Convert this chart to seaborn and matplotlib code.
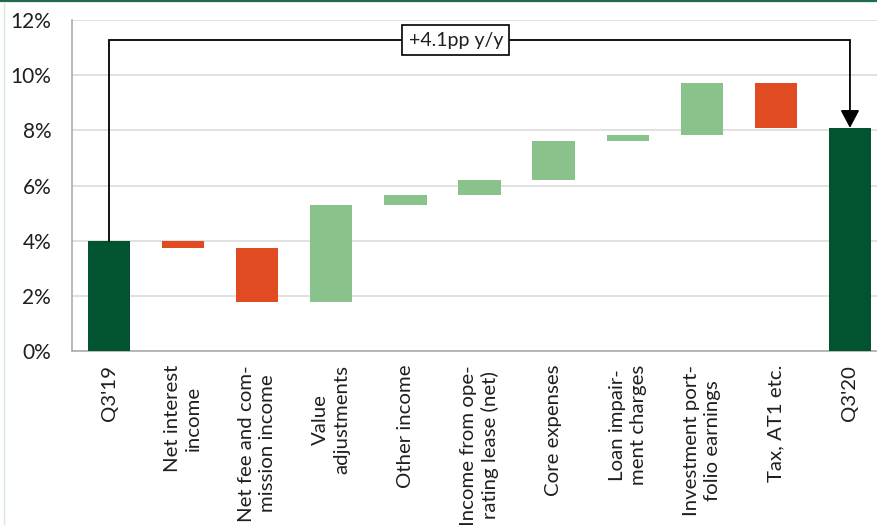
import numpy as np
import pandas as pd
import matplotlib
matplotlib.use("Agg")
import matplotlib.pyplot as plt
from matplotlib.lines import Line2D
import seaborn as sns

# Return on equity bridge, Q3'19 -> Q3'20 (in %)
categories = [
    "Q3'19",
    "Net interest\nincome",
    "Net fee and com-\nmission income",
    "Value\nadjustments",
    "Other income",
    "Income from ope-\nrating lease (net)",
    "Core expenses",
    "Loan impair-\nment charges",
    "Investment port-\nfolio earnings",
    "Tax, AT1 etc.",
    "Q3'20",
]
start_value = 4.00
changes = [-0.28, -1.95, 3.51, 0.39, 0.52, 1.41, 0.23, 1.89, -1.63]
yticks = [0, 2, 4, 6, 8, 10, 12]
ytick_labels = ["0%", "2%", "4%", "6%", "8%", "10%", "12%"]

DARK = "#02532f"
RED = "#e04b22"
LIGHT = "#89c28a"
GRID = "#d9d9d9"
AXIS = "#a6a6a6"
TEXT = "#1f1f1f"

# Waterfall geometry: each step floats on the running total
running = start_value + np.concatenate([[0.0], np.cumsum(changes)])
end_value = running[-1]
bottoms = np.concatenate([[0.0], running[:-1], [0.0]])
heights = np.concatenate([[start_value], changes, [end_value]])
colors = [DARK] + [RED if c < 0 else LIGHT for c in changes] + [DARK]

df = pd.DataFrame({"category": categories, "height": heights})

sns.set_theme(style="white")
plt.rcParams["font.family"] = ["Lato", "DejaVu Sans"]
plt.rcParams["text.color"] = TEXT
plt.rcParams["xtick.color"] = TEXT
plt.rcParams["ytick.color"] = TEXT

fig = plt.figure(figsize=(8.78, 5.25), dpi=100)
ax = fig.add_axes([72 / 878, 174 / 525, 815 / 878, 331 / 525])

sns.barplot(
    data=df, x="category", y="height", bottom=bottoms,
    color=DARK, saturation=1, width=0.57, errorbar=None, ax=ax, zorder=3,
)
for patch, c in zip(ax.patches, colors):
    patch.set_facecolor(c)
    patch.set_edgecolor(c)
    patch.set_linewidth(0)

ax.set_xlim(-0.5, 10.5)
ax.set_ylim(0, 12)
ax.set_xlabel("")
ax.set_ylabel("")

# gridlines
ax.set_yticks(yticks)
ax.set_yticklabels(ytick_labels, fontsize=15)
ax.yaxis.grid(True, color=GRID, linewidth=1.1, zorder=0)
ax.xaxis.grid(False)
ax.set_axisbelow(True)

ax.set_xticks(range(len(categories)))
ax.set_xticklabels(categories, rotation=90, ha="center", va="top",
                   multialignment="center", fontsize=14.7, linespacing=1.3)
ax.set_xticks(np.arange(-0.5, len(categories), 1.0), minor=True)
ax.tick_params(axis="x", which="major", length=0, pad=10)
ax.tick_params(axis="x", which="minor", length=5, width=1, color=AXIS, direction="out")
ax.tick_params(axis="y", which="major", length=5, width=1, color=AXIS, pad=10, direction="out")

for side in ("top", "right"):
    ax.spines[side].set_visible(False)
for side in ("left", "bottom"):
    ax.spines[side].set_color(AXIS)
    ax.spines[side].set_linewidth(1.1)

# year-on-year bracket with arrow
bracket_y = 11.27
ax.plot([0, 0, 10], [start_value, bracket_y, bracket_y], color="black",
        lw=1.3, zorder=4, solid_joinstyle="miter")
ax.annotate("", xy=(10, end_value), xytext=(10, bracket_y),
            arrowprops=dict(arrowstyle="-|>,head_length=0.9,head_width=0.48",
                            mutation_scale=12, color="black", lw=1.3,
                            shrinkA=0, shrinkB=0), zorder=4)
ax.text(4.68, bracket_y, f"+{end_value - start_value:.1f}pp y/y",
        ha="center", va="center", fontsize=14, zorder=5,
        bbox=dict(boxstyle="square,pad=0.32", fc="white", ec="black", lw=1.2))

# frame accents
fig.add_artist(Line2D([0, 1], [1 - 1 / 525, 1 - 1 / 525], transform=fig.transFigure,
                      color="#1d6b49", lw=1.6))
fig.add_artist(Line2D([3.5 / 878, 3.5 / 878], [0, 1 - 2 / 525], transform=fig.transFigure,
                      color="#d6ead6", lw=1.0))

fig.savefig("out.png", dpi=100, facecolor="white")
